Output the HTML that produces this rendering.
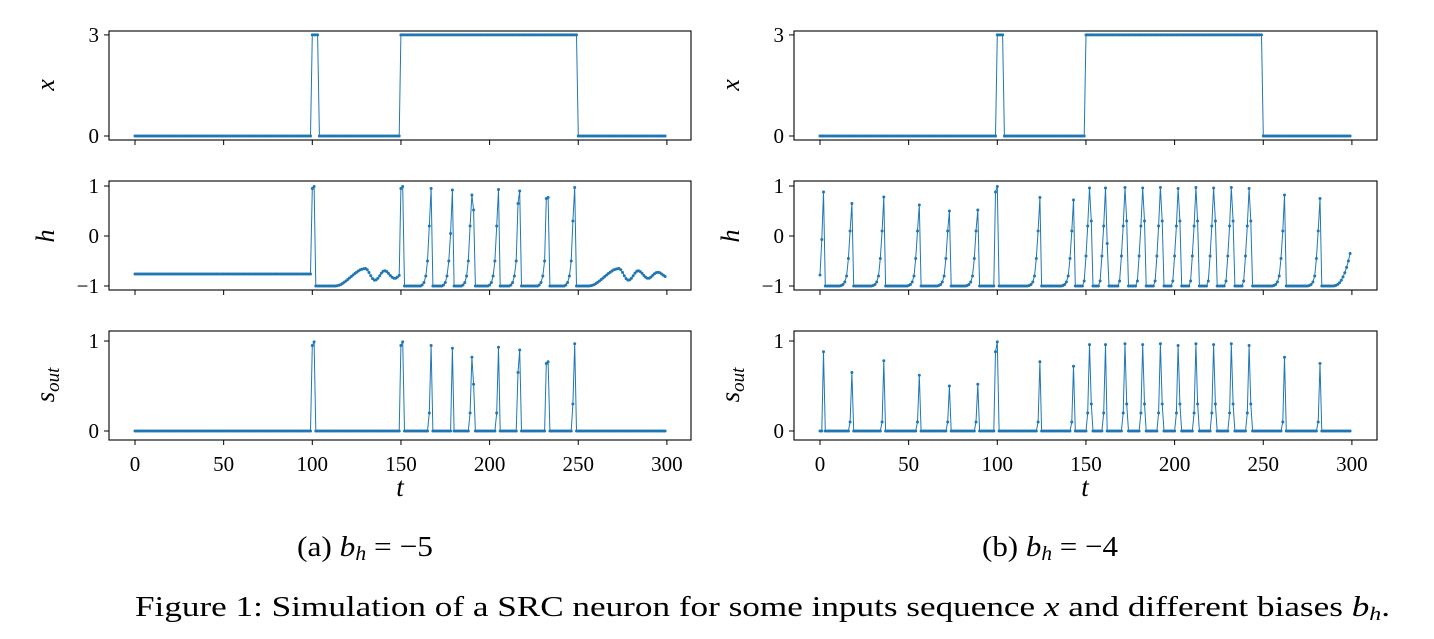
<!DOCTYPE html>
<html><head><meta charset="utf-8"><style>
html,body{margin:0;padding:0;background:#fff;width:1434px;height:639px;overflow:hidden}
svg text{font-family:"Liberation Serif","DejaVu Serif",serif;fill:#000}
</style></head><body>
<svg id="s" width="1434" height="639" xmlns="http://www.w3.org/2000/svg"></svg>
<script>
var S=document.getElementById('s');var out='';
function ramp(h,p,vals){
  for(var i=0;i<vals.length;i++){var t=p-vals.length+1+i;if(t>=0&&t<300)h[t]=vals[i];}
}
function bump(h,a,b,f){for(var t=a;t<=b;t++)h[t]=f(t);}
function osc(pk,start){return function(t){
  if(t<=pk){var u=Math.max(0,(t-start)/(pk-start));var s=u*u*(3-2*u);return -1+0.35*s;}
  var d=t-pk;return -0.78+0.13*Math.cos(2*Math.PI*d/11)*Math.exp(-d/25);};}
var std=[-0.98,-0.93,-0.8,-0.5,0.2];
var hL=[];for(var t=0;t<300;t++)hL[t]=-1;
for(t=0;t<100;t++)hL[t]=-0.76;
hL[100]=0.95;hL[101]=0.99;
bump(hL,102,149,osc(130,113));
hL[150]=0.95;hL[151]=0.99;
var spL=[[167,0.95],[179,0.92],[190,0.82],[205,0.93],[217,0.9],[233,0.77],[248,0.97]];
spL.forEach(function(s){ramp(hL,s[0],std.concat([s[1]]));});
hL[191]=0.52;hL[216]=0.65;hL[232]=0.75;hL[178]=0.05;hL[247]=0.3;
bump(hL,249,299,osc(273,256));
var hR=[];for(t=0;t<300;t++)hR[t]=-1;
hR[0]=-0.78;hR[1]=-0.07;hR[2]=0.88;
var spR=[[18,0.65],[36,0.78],[56,0.62],[73,0.5],[89,0.52],[124,0.77],[143,0.72],[152,0.96],[161,0.96],[172,0.97],[182,0.96],[192,0.97],[202,0.95],[212,0.97],[222,0.96],[232,0.97],[242,0.95],[262,0.82],[282,0.75]];
spR.forEach(function(s){var p=s[0],r=[-0.99,-0.97,-0.92,-0.8,-0.45,0.1,s[1]];
  if(p>150&&p<250)r=[-0.9,-0.4,0.2,s[1]];ramp(hR,p,r);});
[153,162,173,183,193,203,213,223,233,243].forEach(function(t){hR[t]=0.45-((t*7)%5)*0.15;});
hR[99]=0.88;hR[100]=0.99;
for(t=290;t<300;t++)hR[t]=-1+0.65*Math.pow((t-289)/10,2.5);
function sFrom(h){return h.map(function(v){return v>0.05?v:0;});}
function panel(x0,x1,y0,y1,data,ymap,yt,lbl,bottom){
  out+='<rect x="'+x0+'" y="'+y0+'" width="'+(x1-x0)+'" height="'+(y1-y0)+'" fill="none" stroke="#000" stroke-width="1.1"/>';
  var X=function(t){return x0+26+t*1.773;};
  for(var k=0;k<=300;k+=50){var xx=X(k);out+='<line x1="'+xx+'" y1="'+y1+'" x2="'+xx+'" y2="'+(y1+5)+'" stroke="#000"/>';
    if(bottom)out+='<text x="'+xx+'" y="'+(y1+31)+'" font-size="21" text-anchor="middle">'+k+'</text>';}
  yt.forEach(function(v){var yy=ymap(v);out+='<line x1="'+(x0-5)+'" y1="'+yy+'" x2="'+x0+'" y2="'+yy+'" stroke="#000"/>';
    out+='<text x="'+(x0-10)+'" y="'+(yy+7)+'" font-size="21" text-anchor="end">'+(v<0?'\u22121':v)+'</text>';});
  out+=lbl;
  var d='',c='';for(var t=0;t<300;t++){var xx=X(t).toFixed(1),yy=ymap(data[t]).toFixed(1);d+=(t?'L':'M')+xx+' '+yy;c+='<circle cx="'+xx+'" cy="'+yy+'" r="1.5"/>';}
  out+='<path d="'+d+'" fill="none" stroke="#1f77b4" stroke-width="1"/><g fill="#1f77b4">'+c+'</g>';
}
var xL=[],xR=[];for(t=0;t<300;t++){var v=(t>=100&&t<=103)||(t>=150&&t<=249)?3:0;xL[t]=v;xR[t]=v;}
[[109,691,0,hL],[794,1377,686,hR]].forEach(function(P,i){
  var x0=P[0],x1=P[1],lx=x0-55,h=P[3];
  panel(x0,x1,31,140,i?xR:xL,function(v){return 136-v*33.7;},[0,3],'<text transform="translate('+lx+',85) rotate(-90)" font-size="26" font-style="italic" text-anchor="middle">x</text>',false);
  panel(x0,x1,181,290,h,function(v){return 236-v*50;},[-1,0,1],'<text transform="translate('+lx+',236) rotate(-90)" font-size="26" font-style="italic" text-anchor="middle">h</text>',false);
  panel(x0,x1,331,440,sFrom(h),function(v){return 431-v*90;},[0,1],'<text transform="translate('+lx+',385) rotate(-90)" font-size="27" font-style="italic" text-anchor="middle">s<tspan font-size="19" dy="5">out</tspan></text>',true);
  out+='<text x="'+(x0+291)+'" y="496" font-size="27" font-style="italic" text-anchor="middle">t</text>';
});
out+='<text x="297" y="556" font-size="29" textLength="136" lengthAdjust="spacingAndGlyphs">(a) <tspan font-style="italic">b</tspan><tspan font-size="20" font-style="italic" dy="4">h</tspan><tspan dy="-4"> = \u22125</tspan></text>';
out+='<text x="982" y="556" font-size="29" textLength="136" lengthAdjust="spacingAndGlyphs">(b) <tspan font-style="italic">b</tspan><tspan font-size="20" font-style="italic" dy="4">h</tspan><tspan dy="-4"> = \u22124</tspan></text>';
out+='<text x="135" y="616" font-size="28" textLength="1255" lengthAdjust="spacingAndGlyphs">Figure 1: Simulation of a SRC neuron for some inputs sequence <tspan font-style="italic">x</tspan> and different biases <tspan font-style="italic">b</tspan><tspan font-size="19" font-style="italic" dy="4">h</tspan><tspan dy="-4">.</tspan></text>';
S.innerHTML=out;
</script>
</body></html>
